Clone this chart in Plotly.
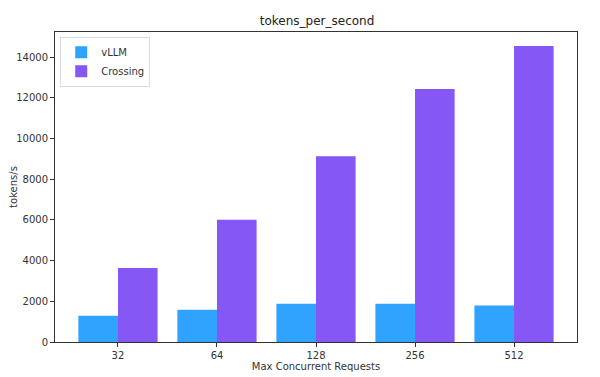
import plotly.graph_objects as go

categories = ["32", "64", "128", "256", "512"]
vllm = [1295, 1590, 1885, 1885, 1787]
crossing = [3640, 6005, 9130, 12425, 14540]

fig = go.Figure()
fig.add_trace(go.Bar(x=categories, y=vllm, name="vLLM", marker=dict(color="#30a2ff", line=dict(width=0))))
fig.add_trace(go.Bar(x=categories, y=crossing, name="Crossing", marker=dict(color="#8558f5", line=dict(width=0))))

# page body has an 8px margin, so the figure is sized to fill the rest of the window
fig.update_layout(
    width=592, height=369,
    margin=dict(l=47, r=23, t=24, b=35),
    paper_bgcolor="white", plot_bgcolor="white",
    font=dict(family="DejaVu Sans", size=10, color="#333"),
    title=dict(text="tokens_per_second", x=0.522, xanchor="center", yref="container", y=0.965,
               yanchor="middle", automargin=False, font=dict(size=12, color="#222")),
    barmode="group", bargap=0.2, bargroupgap=0,
    showlegend=True,
    legend=dict(x=0.01, y=0.985, xanchor="left", yanchor="top", bgcolor="white",
                bordercolor="#ddd", borderwidth=1, font=dict(size=10), itemwidth=30,
                tracegroupgap=0),
)
fig.update_xaxes(type="category", range=[-0.636, 4.636], showline=True, linecolor="#333", linewidth=1,
                 mirror=True, ticks="outside", ticklen=4, tickcolor="#333", showgrid=False,
                 automargin=False,
                 title=dict(text="Max Concurrent Requests", standoff=2, font=dict(size=10)))
fig.update_yaxes(range=[0, 15228], tickvals=[0, 2000, 4000, 6000, 8000, 10000, 12000, 14000],
                 tickformat="d", showline=True, linecolor="#333", linewidth=1, mirror=True,
                 ticks="outside", ticklen=4, tickcolor="#333", showgrid=False, zeroline=False,
                 automargin=False,
                 title=dict(text="tokens/s", standoff=6, font=dict(size=10)))

fig.write_html("out.html")
